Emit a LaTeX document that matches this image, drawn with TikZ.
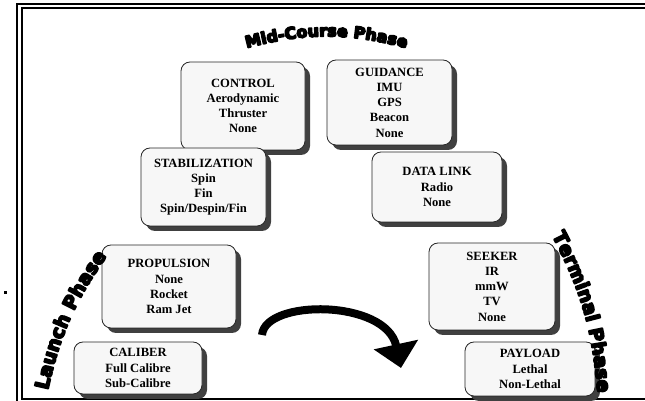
\documentclass[tikz,border=0pt]{standalone}
\usepackage{fontspec}
\setmainfont{Liberation Serif}
\newfontfamily\phasefont{DejaVu Sans Bold}
\newcommand\epais{\special{pdf:literal direct 2 Tr 1.6 w 1 j}}
\usetikzlibrary{shadows,decorations.text,arrows.meta}

\tikzset{
  boite/.style={draw=black!85, line width=0.8pt, fill=black!3, rounded corners=9pt,
    align=center, inner sep=1pt, font=\bfseries\fontsize{12.6}{15.2}\selectfont,
    drop shadow={shadow xshift=5pt, shadow yshift=-5pt, fill=black!75, opacity=1}},
  phase/.style 2 args={decorate, decoration={text along path, text align=center,
    text={|\phasefont\fontsize{#1}{#1}\selectfont\epais|#2}}}
}

\begin{document}
\begin{tikzpicture}[x=1pt,y=1pt]
      \useasboundingbox (0,0) rectangle (645,401);

      %cadre
      \draw[line width=2pt] (17,-5) -- (17,396.5) -- (655,396.5);
      \draw[line width=2pt] (655,392.5) -- (21.5,392.5) -- (21.5,2) -- (655,2);
      \fill (4,107) rectangle (7,109.5);

      %boites
      \node[boite, minimum width=124pt, minimum height=88pt] (control) at (243,295)
        {CONTROL\\Aerodynamic\\Thruster\\None};
      \node[boite, minimum width=125pt, minimum height=85pt] (guidance) at (389.5,298.5)
        {GUIDANCE\\IMU\\GPS\\Beacon\\None};
      \node[boite, minimum width=125pt, minimum height=78pt] (stab) at (203.5,214)
        {STABILIZATION\\Spin\\Fin\\Spin/Despin/Fin};
      \node[boite, minimum width=130pt, minimum height=70pt] (datalink) at (437,214)
        {DATA LINK\\Radio\\None};
      \node[boite, minimum width=134pt, minimum height=83pt] (propulsion) at (169,114.5)
        {PROPULSION\\None\\Rocket\\Ram Jet};
      \node[boite, minimum width=126pt, minimum height=87pt] (seeker) at (492,114.5)
        {SEEKER\\IR\\mmW\\TV\\None};
      \node[boite, minimum width=128pt, minimum height=52pt] (caliber) at (138,33)
        {CALIBER\\Full Calibre\\Sub-Calibre};
      \node[boite, minimum width=130pt, minimum height=54pt] (payload) at (530,32)
        {PAYLOAD\\Lethal\\Non-Lethal};

      %phases
      \path[phase={16}{Mid-Course Phase}] (243,352) to[bend left=15] (410,352);
      \path[phase={19}{Launch Phase}] (46,2) to[bend left=12] (112,152);
      \path[phase={19}{Terminal Phase}] (549,171) to[bend left=12] (598,2);

      %fleche
      \coordinate (depart) at (262,66);
      \coordinate (pointe) at (401,33);
      \draw[line width=8pt, -{Triangle[length=24pt,width=44pt]}] (depart)
        .. controls (265,102) and (386,102) .. (pointe);
\end{tikzpicture}
\end{document}
